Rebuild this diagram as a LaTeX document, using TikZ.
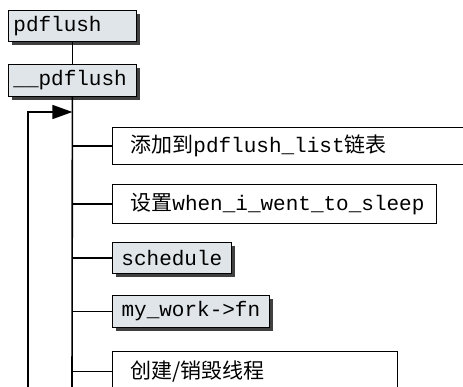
\documentclass[tikz,border=0pt]{standalone}
\usepackage{fontspec}
\setmonofont{Liberation Mono}
\newfontfamily\cjk{Noto Sans CJK SC}
\usetikzlibrary{positioning,calc,arrows.meta,shadows}
\definecolor{boxgray}{HTML}{DFE5E8}
\tikzset{
    every node/.style={font=\ttfamily\fontsize{21}{25}\selectfont},
    rectgray/.style={draw=black, fill=boxgray, line width=0.8pt, anchor=north west, inner sep=0pt,
        drop shadow={shadow xshift=4pt, shadow yshift=-4pt, fill=black!75, opacity=1}},
    rectwhite/.style={draw=black, fill=white, line width=0.8pt, anchor=north west, align=left, inner xsep=18pt},
    link/.style={line width=1.6pt},
    arrow/.style={-{Triangle[length=20pt,width=14pt]}, line width=1.6pt},
}
\begin{document}
\begin{tikzpicture}[x=1pt,y=-1pt]
\path[use as bounding box, clip] (0,0) rectangle (463,387);
% caller and worker
\node[rectgray, inner xsep=5pt, text width=118pt, align=left, minimum height=31pt] (pdf) at (8,10) {pdflush};
\node[rectgray, inner xsep=5pt, text width=118pt, align=left, minimum height=32pt] (upd) at (8,64) {\_\_pdflush};
% steps of the loop
\node[rectwhite, text width=324pt, minimum height=37pt] (b1) at (112,127) {{\cjk 添加到}pdflush\_list{\cjk 链表}};
\node[rectwhite, text width=288pt, minimum height=39pt] (b2) at (112,184) {{\cjk 设置}when\_i\_went\_to\_sleep};
\node[rectgray, minimum width=119pt, minimum height=31pt] (b3) at (112,242) {schedule};
\node[rectgray, minimum width=157pt, minimum height=32pt] (b4) at (112,295) {my\_work->fn};
\node[rectwhite, text width=249pt, minimum height=40pt] (b5) at (112,351) {{\cjk 创建/销毁线程}};
\coordinate (bot) at (72,395);
\coordinate (loopbot) at (28,395);
\coordinate (looptop) at (28,112);
\draw[link] (pdf) -- (upd);
\draw[link] (upd) -- (bot);
\foreach \b in {b1,b2,b3,b4,b5}{
  \draw[link] (\b.west -| upd.south) -- (\b.west);
}
\draw[arrow] (loopbot) -- (looptop) -- (looptop -| upd.south);
\end{tikzpicture}
\end{document}
